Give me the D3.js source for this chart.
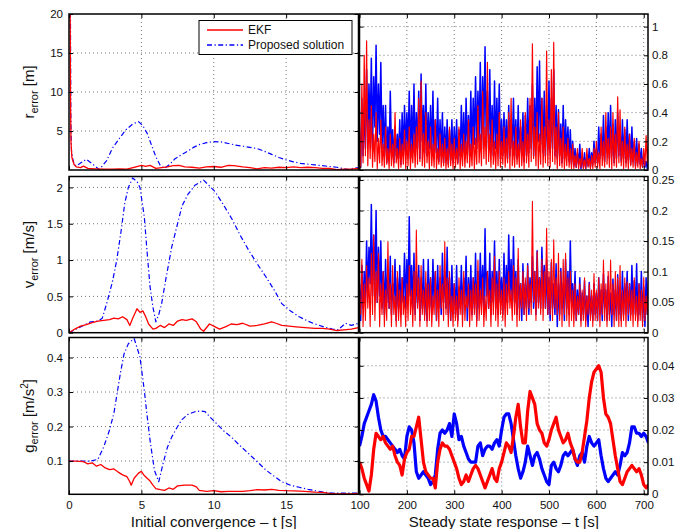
<!DOCTYPE html>
<html>
<head>
<meta charset="utf-8">
<script src="https://cdn.jsdelivr.net/npm/d3@7"></script>
<style>
  body { margin: 0; background: #fff; }
  svg { font-family: "Liberation Sans", Arial, Helvetica, sans-serif; }
</style>
</head>
<body>
<div class="container"></div>
<script>
// ---- initial convergence (left column), [t, value] ----
const rConvRed = [[0,20],[0.08,20],[0.11,8],[0.14,3.5],[0.2,1.6],[0.35,0.7],[0.5,0.4],[0.8,0.3],[1.0,0.5],[1.3,0.2],[1.8,0.15],[2.5,0.1],[3.0,0.1],[3.5,0.15],[4.0,0.1],[4.5,0.35],[5.0,0.6],[5.3,0.45],[5.6,0.6],[6.0,0.2],[6.4,0.3],[6.8,0.4],[7.2,0.55],[7.6,0.6],[8.0,0.4],[8.5,0.35],[9.0,0.25],[9.5,0.4],[10.0,0.45],[10.5,0.35],[11.0,0.6],[11.4,0.55],[12.0,0.4],[12.5,0.3],[13.0,0.15],[13.5,0.3],[14.0,0.25],[14.5,0.35],[15.0,0.3],[15.5,0.4],[16.0,0.3],[16.5,0.35],[17.0,0.3],[17.5,0.2],[18.0,0.2],[18.5,0.05],[19.0,0.1],[19.5,0.1],[20,0.2]];
const rConvBlue = [[0,20],[0.1,20],[0.13,6],[0.17,2.5],[0.25,1.5],[0.35,0.8],[0.5,0.5],[0.8,0.9],[1.2,1.37],[1.6,0.8],[2.1,0.05],[2.6,1.2],[3.0,2.8],[3.5,4.1],[3.9,5.1],[4.4,5.9],[4.8,6.2],[5.1,5.7],[5.4,4.7],[5.7,3.2],[6.0,1.7],[6.3,0.6],[6.6,0.2],[7.0,0.8],[7.3,1.4],[7.8,2.0],[8.2,2.4],[8.6,2.9],[9.0,3.25],[9.5,3.5],[10.0,3.65],[10.5,3.6],[11.0,3.4],[11.5,3.2],[12.0,3.05],[12.5,2.9],[13.0,2.75],[13.5,2.4],[14.0,2.0],[14.5,1.6],[15.0,1.3],[15.5,1.05],[16.0,0.85],[16.5,0.75],[17.0,0.65],[17.5,0.55],[18.0,0.45],[18.5,0.35],[19.0,0.15],[19.3,0.05],[19.6,0.2],[20,0.3]];

const vConvRed = [[0,0],[0.4,0.05],[0.8,0.09],[1.2,0.11],[1.6,0.14],[2.0,0.16],[2.4,0.17],[2.8,0.18],[3.1,0.2],[3.4,0.19],[3.7,0.22],[4.0,0.18],[4.2,0.1],[4.4,0.2],[4.7,0.33],[4.9,0.28],[5.1,0.3],[5.3,0.22],[5.5,0.12],[5.8,0.05],[6.0,0.06],[6.3,0.1],[6.6,0.07],[6.9,0.12],[7.2,0.1],[7.5,0.16],[7.8,0.18],[8.1,0.17],[8.5,0.19],[8.8,0.15],[9.1,0.05],[9.3,0.02],[9.7,0.12],[10.0,0.09],[10.4,0.05],[10.8,0.08],[11.2,0.12],[11.6,0.11],[12.0,0.13],[12.5,0.09],[13.0,0.1],[13.5,0.12],[14.0,0.15],[14.3,0.13],[14.7,0.1],[15.2,0.09],[15.7,0.08],[16.3,0.07],[17.0,0.06],[17.5,0.06],[18.0,0.05],[18.5,0.03],[19.0,0.04],[19.5,0.05],[20,0.07]];
const vConvBlue = [[0,0],[0.5,0.05],[1,0.1],[1.5,0.15],[2,0.16],[2.3,0.2],[2.6,0.4],[3.0,0.7],[3.3,1.0],[3.6,1.4],[3.85,1.78],[4.1,2.0],[4.4,2.13],[4.7,2.08],[4.9,2.0],[5.2,1.6],[5.4,1.1],[5.6,0.63],[5.8,0.35],[6.0,0.15],[6.2,0.25],[6.4,0.4],[6.7,0.75],[7.1,1.18],[7.5,1.5],[7.8,1.74],[8.2,1.9],[8.7,2.03],[9.3,2.1],[9.7,2.02],[10.1,1.94],[10.7,1.75],[11.3,1.55],[11.8,1.35],[12.4,1.14],[13.0,0.95],[13.6,0.77],[14.2,0.58],[14.7,0.4],[15.3,0.3],[15.9,0.22],[16.5,0.16],[17.0,0.12],[17.6,0.08],[18.2,0.05],[18.6,0.04],[19.1,0.13],[19.5,0.1],[20,0.13]];

const gConvRed = [[0,0.1],[0.5,0.1],[1.0,0.098],[1.3,0.092],[1.6,0.095],[1.9,0.085],[2.2,0.09],[2.5,0.08],[2.8,0.075],[3.1,0.077],[3.4,0.068],[3.7,0.06],[4.0,0.055],[4.2,0.04],[4.3,0.03],[4.5,0.05],[4.8,0.065],[5.0,0.07],[5.2,0.058],[5.4,0.05],[5.6,0.042],[5.8,0.03],[6.0,0.02],[6.3,0.017],[6.6,0.015],[6.9,0.022],[7.2,0.018],[7.5,0.028],[8.0,0.03],[8.5,0.03],[8.8,0.025],[9.0,0.015],[9.5,0.012],[10,0.014],[10.5,0.011],[11,0.012],[12,0.012],[12.5,0.014],[13,0.017],[13.5,0.016],[14,0.018],[14.5,0.015],[15,0.014],[16,0.013],[17,0.01],[17.5,0.009],[18,0.006],[18.5,0.005],[19.5,0.005],[20,0.006]];
const gConvBlue = [[0,0.1],[0.5,0.1],[1,0.1],[1.5,0.1],[2.0,0.105],[2.4,0.141],[2.8,0.19],[3.1,0.238],[3.3,0.29],[3.55,0.354],[3.8,0.41],[4.1,0.44],[4.5,0.455],[4.9,0.402],[5.2,0.305],[5.4,0.23],[5.6,0.16],[5.9,0.073],[6.2,0.04],[6.5,0.093],[6.8,0.14],[7.1,0.17],[7.5,0.2],[7.8,0.22],[8.2,0.235],[8.7,0.243],[9.1,0.245],[9.4,0.243],[9.8,0.225],[10.3,0.204],[10.7,0.187],[11.2,0.17],[11.8,0.145],[12.4,0.122],[13.0,0.098],[13.6,0.074],[14.2,0.055],[14.7,0.04],[15.3,0.03],[15.9,0.024],[16.5,0.018],[17.0,0.014],[17.6,0.01],[18.2,0.007],[19.0,0.007],[20,0.007]];

// ---- steady state (right column), one reading every 5 s from t = 100 s ----
const steadyT = d3.range(100, 711, 5);
// noisy traces: peak (hi) and trough (lo) read in each 5 s slot
const rRedHi = [0.3,0.6,0.8,0.9,0.35,0.45,0.25,0.4,0.22,0.35, 0.18,0.3,0.15,0.25,0.18,0.4,0.15,0.22,0.18,0.28, 0.2,0.3,0.18,0.25,0.3,0.5,0.62,0.25,0.4,0.2, 0.3,0.18,0.35,0.15,0.25,0.18,0.22,0.15,0.3,0.18, 0.22,0.15,0.3,0.18,0.25,0.2,0.35,0.18,0.3,0.22, 0.45,0.25,0.55,0.3,0.75,0.25,0.35,0.2,0.25,0.4, 0.2,0.3,0.22,0.4,0.5,0.2,0.3,0.18,0.35,0.2, 0.4,0.25,0.5,0.88,0.3,0.4,0.25,0.5,0.3,0.83, 0.35,0.7,0.89,0.3,0.4,0.22,0.3,0.18,0.22,0.15, 0.18,0.1,0.15,0.08,0.15,0.07,0.15,0.08,0.1,0.15, 0.2,0.12,0.3,0.2,0.4,0.22,0.3,0.4,0.25,0.51, 0.42,0.2,0.3,0.18,0.25,0.15,0.22,0.12,0.2,0.08, 0.15,0.24,0.2];
const rRedLo = [0.02,0.05,0.1,0.03,0.08,0.02,0.06,0.01,0.05,0.03, 0.02,0.04,0.01,0.03,0.02,0.05,0.01,0.02,0.04,0.01, 0.03,0.01,0.05,0.02,0.04,0.06,0.03,0.02,0.05,0.01, 0.03,0.02,0.01,0.04,0.02,0.03,0.01,0.02,0.03,0.01, 0.02,0.04,0.01,0.03,0.02,0.05,0.02,0.03,0.01,0.04, 0.05,0.03,0.08,0.04,0.06,0.02,0.04,0.01,0.03,0.02, 0.04,0.02,0.05,0.01,0.03,0.02,0.04,0.02,0.03,0.01, 0.05,0.02,0.06,0.08,0.03,0.01,0.04,0.02,0.05,0.03, 0.02,0.06,0.04,0.01,0.03,0.02,0.01,0.03,0.02,0.01, 0.01,0.02,0.01,0.02,0.01,0.01,0.02,0.01,0.01,0.02, 0.02,0.01,0.03,0.02,0.04,0.02,0.01,0.03,0.02,0.05, 0.03,0.01,0.02,0.01,0.03,0.02,0.01,0.02,0.01,0.02, 0.03,0.05,0.08];
const rBlueHi = [0.2,0.5,0.45,0.7,0.6,0.78,0.65,0.87,0.6,0.75, 0.45,0.45,0.3,0.55,0.28,0.3,0.25,0.35,0.4,0.45, 0.4,0.55,0.45,0.6,0.4,0.55,0.67,0.45,0.6,0.4, 0.45,0.55,0.35,0.5,0.35,0.4,0.3,0.35,0.28,0.35, 0.3,0.35,0.28,0.45,0.4,0.5,0.38,0.55,0.5,0.65, 0.55,0.75,0.65,0.86,0.55,0.7,0.45,0.62,0.5,0.6, 0.35,0.4,0.35,0.45,0.35,0.5,0.35,0.45,0.3,0.4, 0.38,0.5,0.45,0.6,0.5,0.72,0.76,0.5,0.55,0.45, 0.62,0.5,0.7,0.45,0.42,0.32,0.45,0.35,0.3,0.28, 0.2,0.15,0.12,0.18,0.1,0.12,0.1,0.15,0.12,0.2, 0.15,0.3,0.25,0.38,0.3,0.4,0.45,0.32,0.35,0.4, 0.3,0.35,0.28,0.35,0.25,0.3,0.2,0.22,0.18,0.15, 0.1,0.06,0.05];
const rBlueLo = [0.02,0.1,0.15,0.2,0.25,0.15,0.3,0.2,0.25,0.15, 0.1,0.05,0.08,0.12,0.05,0.1,0.08,0.04,0.1,0.12, 0.15,0.08,0.12,0.1,0.15,0.08,0.2,0.12,0.1,0.15, 0.1,0.08,0.12,0.06,0.1,0.05,0.08,0.04,0.07,0.05, 0.08,0.05,0.1,0.12,0.08,0.15,0.1,0.12,0.18,0.15, 0.2,0.15,0.25,0.2,0.15,0.12,0.1,0.15,0.12,0.08, 0.1,0.12,0.08,0.1,0.15,0.1,0.08,0.12,0.1,0.06, 0.1,0.12,0.15,0.1,0.15,0.2,0.18,0.12,0.1,0.15, 0.12,0.15,0.1,0.08,0.1,0.05,0.08,0.1,0.06,0.04, 0.03,0.02,0.04,0.01,0.02,0.01,0.03,0.02,0.04,0.05, 0.05,0.08,0.1,0.06,0.12,0.08,0.1,0.05,0.08,0.1, 0.06,0.08,0.05,0.07,0.04,0.06,0.03,0.05,0.04,0.02, 0.02,0.01,0.02];

const vRedHi = [0.06,0.12,0.08,0.11,0.09,0.13,0.16,0.1,0.13,0.08, 0.1,0.07,0.149,0.08,0.11,0.06,0.1,0.07,0.09,0.06, 0.08,0.11,0.07,0.1,0.168,0.09,0.11,0.07,0.1,0.08, 0.09,0.06,0.1,0.07,0.11,0.08,0.149,0.09,0.1,0.06, 0.08,0.06,0.09,0.07,0.1,0.06,0.08,0.07,0.09,0.08, 0.119,0.07,0.09,0.06,0.1,0.07,0.09,0.125,0.08,0.1, 0.07,0.09,0.08,0.1,0.07,0.11,0.09,0.138,0.08,0.1, 0.09,0.11,0.08,0.215,0.1,0.133,0.09,0.12,0.1,0.171, 0.1,0.12,0.152,0.09,0.13,0.1,0.12,0.13,0.09,0.1, 0.07,0.08,0.06,0.08,0.07,0.09,0.06,0.08,0.07,0.097, 0.07,0.09,0.08,0.119,0.08,0.1,0.119,0.08,0.1,0.09, 0.11,0.07,0.09,0.083,0.08,0.07,0.09,0.06,0.08,0.07, 0.09,0.06,0.08];
const vRedLo = [0.03,0.01,0.02,0.04,0.01,0.03,0.02,0.05,0.01,0.03, 0.01,0.02,0.04,0.01,0.03,0.01,0.02,0.01,0.03,0.01, 0.02,0.03,0.01,0.02,0.04,0.01,0.03,0.02,0.01,0.02, 0.01,0.03,0.02,0.01,0.04,0.02,0.03,0.01,0.02,0.01, 0.02,0.01,0.03,0.01,0.02,0.04,0.01,0.02,0.03,0.01, 0.02,0.03,0.01,0.02,0.04,0.01,0.03,0.02,0.01,0.03, 0.02,0.01,0.03,0.04,0.02,0.03,0.01,0.02,0.04,0.03, 0.02,0.04,0.03,0.05,0.02,0.04,0.03,0.02,0.04,0.03, 0.03,0.02,0.04,0.03,0.02,0.01,0.03,0.02,0.01,0.02, 0.01,0.02,0.03,0.01,0.02,0.01,0.03,0.02,0.01,0.02, 0.02,0.01,0.03,0.02,0.01,0.02,0.03,0.01,0.02,0.01, 0.01,0.02,0.01,0.03,0.02,0.01,0.02,0.01,0.02,0.01, 0.02,0.03,0.04];
const vBlueHi = [0.08,0.11,0.1,0.15,0.14,0.21,0.16,0.2,0.14,0.15, 0.1,0.12,0.1,0.125,0.08,0.12,0.09,0.11,0.09,0.13, 0.12,0.19,0.11,0.13,0.1,0.11,0.09,0.12,0.08,0.12, 0.09,0.12,0.1,0.11,0.09,0.13,0.1,0.14,0.09,0.11, 0.08,0.11,0.075,0.11,0.09,0.125,0.09,0.11,0.09,0.13, 0.1,0.13,0.11,0.17,0.1,0.13,0.1,0.15,0.1,0.12, 0.09,0.13,0.11,0.16,0.12,0.157,0.1,0.12,0.08,0.113, 0.08,0.113,0.09,0.125,0.1,0.134,0.09,0.14,0.11,0.12, 0.09,0.115,0.08,0.113,0.08,0.105,0.08,0.12,0.1,0.15, 0.08,0.1,0.07,0.09,0.065,0.085,0.06,0.082,0.06,0.08, 0.065,0.09,0.07,0.096,0.07,0.092,0.065,0.088,0.07,0.095, 0.075,0.1,0.08,0.1,0.08,0.11,0.085,0.113,0.08,0.1, 0.075,0.09,0.085];
const vBlueLo = [0.02,0.04,0.05,0.06,0.08,0.06,0.07,0.05,0.06,0.04, 0.03,0.05,0.04,0.03,0.05,0.02,0.04,0.03,0.05,0.04, 0.05,0.06,0.04,0.03,0.05,0.02,0.04,0.03,0.02,0.04, 0.03,0.05,0.02,0.04,0.03,0.05,0.04,0.03,0.02,0.04, 0.03,0.02,0.04,0.03,0.05,0.02,0.04,0.03,0.04,0.02, 0.04,0.05,0.03,0.06,0.04,0.03,0.05,0.04,0.03,0.05, 0.03,0.04,0.05,0.06,0.04,0.05,0.03,0.04,0.02,0.03, 0.04,0.03,0.05,0.04,0.03,0.05,0.04,0.06,0.04,0.03, 0.02,0.04,0.03,0.01,0.03,0.04,0.02,0.04,0.03,0.05, 0.03,0.02,0.03,0.02,0.03,0.02,0.01,0.03,0.02,0.03, 0.02,0.03,0.02,0.04,0.02,0.03,0.01,0.03,0.02,0.03, 0.02,0.03,0.04,0.02,0.03,0.04,0.03,0.02,0.03,0.02, 0.01,0.03,0.02];

// slow random-walk traces (g)
const gRed = [0.010,0.008,0.005,0.003,0.001,0.006,0.014,0.019,0.018,0.017, 0.018,0.016,0.015,0.014,0.015,0.012,0.010,0.009,0.006,0.011, 0.013,0.014,0.018,0.018,0.021,0.024,0.017,0.010,0.007,0.006, 0.005,0.005,0.002,0.010,0.014,0.016,0.015,0.015,0.014,0.012, 0.010,0.008,0.005,0.003,0.004,0.006,0.004,0.006,0.008,0.009, 0.008,0.006,0.004,0.002,0.004,0.006,0.008,0.005,0.004,0.008, 0.010,0.013,0.016,0.015,0.013,0.018,0.024,0.028,0.021,0.016, 0.016,0.026,0.032,0.030,0.028,0.022,0.020,0.019,0.016,0.015, 0.017,0.020,0.022,0.024,0.020,0.018,0.016,0.017,0.019,0.016, 0.014,0.011,0.010,0.010,0.013,0.018,0.023,0.030,0.035,0.038, 0.039,0.040,0.038,0.030,0.025,0.024,0.022,0.017,0.012,0.008, 0.004,0.003,0.005,0.007,0.008,0.009,0.008,0.007,0.008,0.006, 0.003,0.002,0.003];
const gBlue = [0.015,0.018,0.022,0.024,0.026,0.028,0.031,0.029,0.024,0.020, 0.018,0.018,0.017,0.016,0.015,0.014,0.013,0.014,0.012,0.011, 0.018,0.021,0.020,0.016,0.007,0.005,0.006,0.007,0.006,0.005, 0.003,0.004,0.006,0.014,0.019,0.020,0.019,0.020,0.022,0.018, 0.025,0.022,0.017,0.018,0.015,0.013,0.011,0.010,0.010,0.010, 0.015,0.016,0.012,0.014,0.015,0.015,0.014,0.016,0.017,0.015, 0.020,0.024,0.025,0.025,0.022,0.017,0.012,0.008,0.005,0.007, 0.010,0.015,0.012,0.009,0.012,0.013,0.011,0.008,0.006,0.004, 0.003,0.009,0.010,0.008,0.007,0.009,0.012,0.013,0.012,0.013, 0.014,0.011,0.009,0.012,0.013,0.010,0.015,0.018,0.016,0.015, 0.016,0.017,0.012,0.008,0.005,0.004,0.005,0.006,0.007,0.006, 0.009,0.013,0.012,0.013,0.016,0.021,0.021,0.019,0.019,0.018, 0.019,0.018,0.016];

// ---- tick values ----
const convTicks = [0, 5, 10, 15];
const steadyTicks = [100, 200, 300, 400, 500, 600, 700];
const rConvTicks = [5, 10, 15, 20];
const vConvTicks = [0, 0.5, 1, 1.5, 2];
const gConvTicks = [0.1, 0.2, 0.3, 0.4];
const rSteadyTicks = [0, 0.2, 0.4, 0.6, 0.8, 1];
const vSteadyTicks = [0, 0.05, 0.1, 0.15, 0.2, 0.25];
const gSteadyTicks = [0, 0.01, 0.02, 0.03, 0.04];

const width = 678, height = 529;
const red = "#ff0000", blue = "#0000ff";
const dashDot = "5,2.5,1.2,2.5";

const svg = d3.select(".container")
  .append("svg")
  .attr("width", width)
  .attr("height", height);

const cols = { left: [69, 358.5], right: [359.5, 648] };
const rows = [[14, 170], [176.5, 332.7], [337.5, 494.3]];

// hi/lo readings drawn as one trace, peak then trough in each slot
const zig = (hi, lo) => hi.flatMap((v, i) => [[steadyT[i], v], [steadyT[i] + 2.5, lo[i]]]);
const walk = vals => vals.map((v, i) => [steadyT[i], v]);

const panels = [
  { row: 0, col: "left", xd: [0, 20], yd: [0, 20], xt: convTicks, yt: rConvTicks,
    series: [{ d: rConvBlue, c: blue, dash: dashDot, w: 1.2 }, { d: rConvRed, c: red, w: 1.3 }] },
  { row: 0, col: "right", xd: [100, 709], yd: [0, 1.088], xt: steadyTicks, yt: rSteadyTicks,
    series: [{ d: zig(rBlueHi, rBlueLo), c: blue, w: 1.5 }, { d: zig(rRedHi, rRedLo), c: red, w: 1.2 }] },
  { row: 1, col: "left", xd: [0, 20], yd: [0, 2.15], xt: convTicks, yt: vConvTicks,
    series: [{ d: vConvBlue, c: blue, dash: dashDot, w: 1.2 }, { d: vConvRed, c: red, w: 1.3 }] },
  { row: 1, col: "right", xd: [100, 709], yd: [0, 0.2557], xt: steadyTicks, yt: vSteadyTicks,
    series: [{ d: zig(vBlueHi, vBlueLo), c: blue, w: 1.5 }, { d: zig(vRedHi, vRedLo), c: red, w: 1.1 }] },
  { row: 2, col: "left", xd: [0, 20], yd: [0.0036, 0.458], xt: convTicks, yt: gConvTicks,
    series: [{ d: gConvBlue, c: blue, dash: dashDot, w: 1.2 }, { d: gConvRed, c: red, w: 1.3 }] },
  { row: 2, col: "right", xd: [100, 709], yd: [0, 0.0488], xt: steadyTicks, yt: gSteadyTicks,
    series: [{ d: walk(gBlue), c: blue, w: 3.2 }, { d: walk(gRed), c: red, w: 3.2 }] }
];

const fmt = d3.format("~g");

panels.forEach((p, i) => {
  const [x0, x1] = cols[p.col];
  const [y0, y1] = rows[p.row];
  const x = d3.scaleLinear().domain(p.xd).range([x0, x1]);
  const y = d3.scaleLinear().domain(p.yd).range([y1, y0]);
  const g = svg.append("g");

  svg.append("clipPath").attr("id", "clip" + i)
    .append("rect").attr("x", x0).attr("y", y0).attr("width", x1 - x0).attr("height", y1 - y0);

  // dotted grid
  g.append("g").selectAll("line")
    .data(p.xt.filter(v => x(v) > x0 + 1 && x(v) < x1 - 1))
    .join("line")
    .attr("x1", d => x(d)).attr("x2", d => x(d))
    .attr("y1", y0).attr("y2", y1)
    .attr("stroke", "#777").attr("stroke-dasharray", "1,3");
  g.append("g").selectAll("line")
    .data(p.yt.filter(v => y(v) > y0 + 1 && y(v) < y1 - 1))
    .join("line")
    .attr("y1", d => y(d)).attr("y2", d => y(d))
    .attr("x1", x0).attr("x2", x1)
    .attr("stroke", "#777").attr("stroke-dasharray", "1,3");

  const line = d3.line().x(d => x(d[0])).y(d => y(d[1]));
  g.append("g").attr("clip-path", `url(#clip${i})`)
    .selectAll("path")
    .data(p.series)
    .join("path")
    .attr("d", s => line(s.d))
    .attr("fill", "none")
    .attr("stroke", s => s.c)
    .attr("stroke-width", s => s.w)
    .attr("stroke-linejoin", "round")
    .attr("stroke-dasharray", s => s.dash || null);

  // ticks pointing inward on all four sides
  const style = sel => {
    sel.select(".domain").remove();
    sel.selectAll("text").attr("font-size", 11.5).attr("fill", "#111")
      .attr("font-family", "'Liberation Sans', Arial, sans-serif");
    sel.selectAll("line").attr("stroke", "#000");
  };
  g.append("g").attr("transform", `translate(0,${y1})`)
    .call(d3.axisBottom(x).tickValues(p.xt).tickSizeInner(-4).tickSizeOuter(0).tickPadding(7)
      .tickFormat(p.row === 2 ? fmt : ""))
    .call(style);
  g.append("g").attr("transform", `translate(0,${y0})`)
    .call(d3.axisTop(x).tickValues(p.xt).tickSizeInner(-4).tickSizeOuter(0).tickFormat(""))
    .call(style);
  const leftAx = d3.axisLeft(y).tickValues(p.yt).tickSizeInner(-4).tickSizeOuter(0).tickPadding(6);
  const rightAx = d3.axisRight(y).tickValues(p.yt).tickSizeInner(-4).tickSizeOuter(0).tickPadding(4);
  g.append("g").attr("transform", `translate(${x0},0)`)
    .call(leftAx.tickFormat(p.col === "left" ? fmt : ""))
    .call(style);
  g.append("g").attr("transform", `translate(${x1},0)`)
    .call(rightAx.tickFormat(p.col === "right" ? fmt : ""))
    .call(style);

  g.append("rect")
    .attr("x", x0).attr("y", y0).attr("width", x1 - x0).attr("height", y1 - y0)
    .attr("fill", "none").attr("stroke", "#000").attr("stroke-width", 1.5);
});

// y labels with subscripts
const yLabels = [
  { row: 0, main: "r", unit: " [m]" },
  { row: 1, main: "v", unit: " [m/s]" },
  { row: 2, main: "g", unit: " [m/s", sup: "2", close: "]" }
];
yLabels.forEach(l => {
  const cy = (rows[l.row][0] + rows[l.row][1]) / 2;
  const t = svg.append("text")
    .attr("transform", `translate(34,${cy}) rotate(-90)`)
    .attr("text-anchor", "middle")
    .attr("font-size", 15)
    .attr("fill", "#111");
  t.append("tspan").text(l.main);
  t.append("tspan").attr("font-size", 11).attr("dy", 4).text("error");
  t.append("tspan").attr("dy", -4).text(l.unit);
  if (l.sup) {
    t.append("tspan").attr("font-size", 10).attr("dy", -6).text(l.sup);
    t.append("tspan").attr("dy", 6).text(l.close);
  }
});

// x labels
svg.append("text")
  .attr("x", (cols.left[0] + cols.left[1]) / 2).attr("y", 527)
  .attr("text-anchor", "middle").attr("font-size", 15).attr("fill", "#111")
  .text("Initial convergence \u2013 t [s]");
svg.append("text")
  .attr("x", (cols.right[0] + cols.right[1]) / 2).attr("y", 527)
  .attr("text-anchor", "middle").attr("font-size", 15).attr("fill", "#111")
  .text("Steady state response \u2013 t [s]");

// legend
const legendItems = [
  { name: "EKF", c: red, dash: null },
  { name: "Proposed solution", c: blue, dash: dashDot }
];
const leg = svg.append("g");
leg.append("rect")
  .attr("x", 199).attr("y", 20.5).attr("width", 153).attr("height", 34)
  .attr("fill", "#fff").attr("stroke", "#000").attr("stroke-width", 1);
const li = leg.selectAll("g.item").data(legendItems).join("g")
  .attr("class", "item")
  .attr("transform", (d, i) => `translate(0,${30 + i * 15})`);
li.append("line")
  .attr("x1", 207).attr("x2", 243)
  .attr("stroke", d => d.c).attr("stroke-width", 1.3)
  .attr("stroke-dasharray", d => d.dash);
li.append("text")
  .attr("x", 248).attr("dy", "0.35em")
  .attr("font-size", 12).attr("fill", "#111")
  .text(d => d.name);
</script>
</body>
</html>
